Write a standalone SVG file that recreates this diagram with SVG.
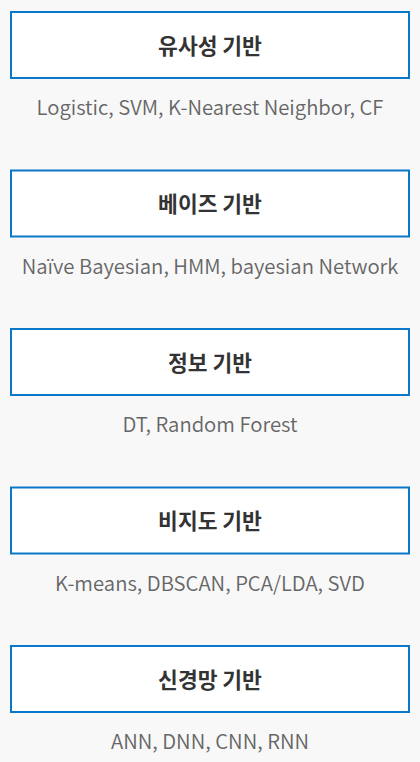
<svg xmlns="http://www.w3.org/2000/svg" width="420" height="762" viewBox="0 0 420 762">
<style>
.box{fill:#ffffff;stroke:#0a78c8;stroke-width:2}
.t{font-family:"Noto Sans CJK KR","Noto Sans",sans-serif;font-size:21.5px;font-weight:700;fill:#333333;text-anchor:middle}
.s{font-family:"Noto Sans CJK KR","Noto Sans",sans-serif;font-size:20.3px;font-weight:350;fill:#666666;text-anchor:middle}
</style>
<rect width="420" height="762" fill="#f8f8f8"/>
<g id="node1"><rect class="box" x="11" y="12" width="398" height="66"/><text class="t" x="210" y="53.5">유사성 기반</text><text class="s" x="210" y="115">Logistic, SVM, K-Nearest Neighbor, CF</text></g>
<g id="node2"><rect class="box" x="11" y="170.5" width="398" height="66"/><text class="t" x="210" y="212">베이즈 기반</text><text class="s" x="210" y="273.5">Naïve Bayesian, HMM, bayesian Network</text></g>
<g id="node3"><rect class="box" x="11" y="329" width="398" height="66"/><text class="t" x="210" y="370.5">정보 기반</text><text class="s" x="210" y="432">DT, Random Forest</text></g>
<g id="node4"><rect class="box" x="11" y="487.5" width="398" height="66"/><text class="t" x="210" y="529">비지도 기반</text><text class="s" x="210" y="590.5">K-means, DBSCAN, PCA/LDA, SVD</text></g>
<g id="node5"><rect class="box" x="11" y="646" width="398" height="66"/><text class="t" x="210" y="687.5">신경망 기반</text><text class="s" x="210" y="749">ANN, DNN, CNN, RNN</text></g>
<g id="connectors"></g>
</svg>
